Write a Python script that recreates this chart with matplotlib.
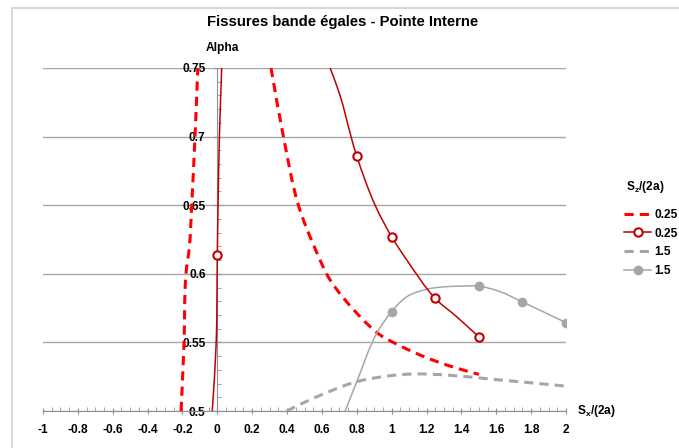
import matplotlib
matplotlib.use("Agg")
import matplotlib.pyplot as plt
import numpy as np
from matplotlib.ticker import MultipleLocator, FuncFormatter
from matplotlib.patches import Rectangle, PathPatch
from matplotlib.path import Path
from matplotlib.lines import Line2D

plt.rcParams['font.family'] = ['Liberation Sans', 'DejaVu Sans']
plt.rcParams['axes.unicode_minus'] = False
plt.rcParams['mathtext.fontset'] = 'custom'
plt.rcParams['mathtext.bf'] = 'Liberation Sans:bold'
plt.rcParams['mathtext.rm'] = 'Liberation Sans:bold'
plt.rcParams['mathtext.default'] = 'bf'

# ---- data ----
# Sz/(2a) = 0.25, dashed (two branches, separated by NaN)
dash025_x = [-0.208, -0.191, -0.18, -0.16, -0.147, -0.128, -0.112, np.nan,
             0.308, 0.379, 0.465, 0.561, 0.647, 0.819, 0.934, 1.02, 1.163, 1.316, 1.5]
dash025_y = [0.5, 0.55, 0.6, 0.62, 0.65, 0.70, 0.75, np.nan,
             0.75, 0.70, 0.65, 0.6183, 0.5955, 0.5687, 0.5554, 0.5493, 0.5408, 0.5335, 0.5267]

# Sz/(2a) = 0.25, solid line with markers
line025_x = [-0.029, -0.007, 0.0, 0.004, 0.012, 0.025, np.nan,
             0.647, 0.704, 0.767, 0.8, 0.905, 1.0, 1.087, 1.25, 1.373, 1.5]
line025_y = [0.5, 0.548, 0.614, 0.65, 0.70, 0.75, np.nan,
             0.75, 0.730, 0.70, 0.6856, 0.65, 0.627, 0.610, 0.582, 0.5687, 0.554]
mark025_x = [0.0, 0.8, 1.0, 1.25, 1.5]
mark025_y = [0.614, 0.6856, 0.627, 0.582, 0.554]

# Sz/(2a) = 1.5, dashed
dash15_x = [0.398, 0.551, 0.80, 0.991, 1.125, 1.316, 1.565, 1.794, 1.995]
dash15_y = [0.5, 0.5093, 0.5214, 0.5257, 0.527, 0.5262, 0.5233, 0.5206, 0.5182]

# Sz/(2a) = 1.5, solid line with markers
line15_x = [0.733, 0.80, 0.914, 1.0, 1.087, 1.20, 1.30, 1.40, 1.5, 1.622, 1.75, 2.0]
line15_y = [0.5, 0.5214, 0.5566, 0.5724, 0.5833, 0.5887, 0.5905, 0.591, 0.591, 0.587, 0.5795, 0.5644]
mark15_x = [1.0, 1.5, 1.75, 2.0]
mark15_y = [0.5724, 0.591, 0.5795, 0.5644]

legend_title = r'S$_{z}$/(2a)'
legend_labels = ['0.25', '0.25', '1.5', '1.5']

RED = '#ff0000'
DARKRED = '#c00000'
GRAY = '#a6a6a6'
FS = 8.6
SX, SY = 174.3, 1372.0  # approx px per data unit, used only for smoothing geometry


def smooth_path(xs, ys):
    """Smoothed (Excel-like) cubic Bezier path through the given points; NaN splits segments."""
    xs = np.asarray(xs, float)
    ys = np.asarray(ys, float)
    verts, codes = [], []
    seg = []
    for p in list(zip(xs, ys)) + [(np.nan, np.nan)]:
        if np.isnan(p[0]):
            if len(seg) >= 2:
                P = np.array(seg) * [SX, SY]
                n = len(P)
                d = np.linalg.norm(np.diff(P, axis=0), axis=1)
                T = np.zeros_like(P)
                for i in range(n):
                    if i == 0:
                        v = P[1] - P[0]
                    elif i == n - 1:
                        v = P[-1] - P[-2]
                    else:
                        v = (P[i + 1] - P[i]) / d[i] + (P[i] - P[i - 1]) / d[i - 1]
                    T[i] = v / np.linalg.norm(v)
                verts.append(P[0]); codes.append(Path.MOVETO)
                for i in range(n - 1):
                    c1 = P[i] + T[i] * d[i] / 3.0
                    c2 = P[i + 1] - T[i + 1] * d[i] / 3.0
                    verts += [c1, c2, P[i + 1]]
                    codes += [Path.CURVE4] * 3
            seg = []
        else:
            seg.append(p)
    V = np.array(verts) / [SX, SY]
    return Path(V, codes)


fig = plt.figure(figsize=(6.79, 4.48), dpi=100)
ax = fig.add_axes([43/679, 1-411/448, (566-43)/679, (411-68)/448])

# outer chart frame
fig.patches.append(Rectangle((12/679, -0.1), 1.2, (448-8)/448 + 0.1, transform=fig.transFigure,
                             fill=False, edgecolor='#d0d0d0', lw=1.2))

ax.set_xlim(-1, 2)
ax.set_ylim(0.5, 0.75)

ax.yaxis.set_major_locator(MultipleLocator(0.05))
ax.yaxis.set_minor_locator(MultipleLocator(0.01))
ax.xaxis.set_major_locator(MultipleLocator(0.2))
ax.xaxis.set_minor_locator(MultipleLocator(0.05))
ax.grid(axis='y', which='major', color='#a6a6a6', lw=1.0)
ax.set_axisbelow(True)

for s in ['top', 'right']:
    ax.spines[s].set_visible(False)
ax.spines['left'].set_position(('data', 0))
ax.spines['bottom'].set_position(('data', 0.5))
ax.spines['left'].set_color('#909090')
ax.spines['bottom'].set_color('#909090')

fmt = FuncFormatter(lambda v, p: '%g' % round(v, 4))
ax.xaxis.set_major_formatter(fmt)
ax.yaxis.set_major_formatter(fmt)
ax.tick_params(axis='both', which='major', direction='inout', length=5, color='#909090',
               labelsize=FS)
ax.tick_params(axis='both', which='minor', direction='in', length=3, color='#909090')
ax.tick_params(axis='x', which='major', pad=7)
ax.tick_params(axis='y', which='major', pad=6)
for lab in ax.get_xticklabels() + ax.get_yticklabels():
    lab.set_fontweight('bold')

# series
ax.add_patch(PathPatch(smooth_path(dash025_x, dash025_y), fill=False, edgecolor=RED,
                       lw=2.2, ls=(0, (3, 2)), zorder=3))
ax.add_patch(PathPatch(smooth_path(line025_x, line025_y), fill=False, edgecolor=DARKRED,
                       lw=1.1, zorder=4))
ax.plot(mark025_x, mark025_y, ls='none', marker='o', ms=6, mfc='white', mec=DARKRED, mew=1.5, zorder=5)
ax.add_patch(PathPatch(smooth_path(dash15_x, dash15_y), fill=False, edgecolor=GRAY,
                       lw=2.2, ls=(0, (3, 2)), zorder=3))
ax.add_patch(PathPatch(smooth_path(line15_x, line15_y), fill=False, edgecolor=GRAY,
                       lw=1.1, zorder=3))
ax.plot(mark15_x, mark15_y, ls='none', marker='o', ms=6, mfc=GRAY, mec=GRAY, zorder=4)

# titles / labels
fig.text(343/679, 1-22/448, 'Fissures bande égales - Pointe Interne', ha='center', va='center',
         fontsize=10.7, fontweight='bold')
fig.text(222/679, 1-48/448, 'Alpha', ha='center', va='center', fontsize=FS, fontweight='bold')
fig.text(577/679, 1-411/448, r'S$_{x}$/(2a)', ha='left', va='center', fontsize=FS, fontweight='bold')
fig.text(645/679, 1-187/448, legend_title, ha='center', va='center', fontsize=FS, fontweight='bold')

handles = [
    Line2D([], [], color=RED, lw=2.2, ls=(0, (3, 2))),
    Line2D([], [], color=DARKRED, lw=1.1, marker='o', ms=6, mfc='white', mec=DARKRED, mew=1.5),
    Line2D([], [], color=GRAY, lw=2.2, ls=(0, (3, 2))),
    Line2D([], [], color=GRAY, lw=1.1, marker='o', ms=6, mfc=GRAY, mec=GRAY),
]
leg = fig.legend(handles, legend_labels, loc='upper left',
                 bbox_to_anchor=(624/679, 1-209/448), frameon=False, fontsize=FS,
                 handlelength=2.3, handletextpad=0.25, labelspacing=0.55,
                 borderpad=0, borderaxespad=0)
for t in leg.get_texts():
    t.set_fontweight('bold')

fig.savefig('out.png', dpi=100)
